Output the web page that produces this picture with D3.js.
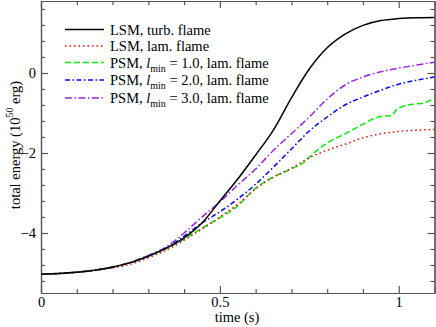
<!DOCTYPE html>
<html>
<head>
<meta charset="utf-8">
<script src="https://cdn.jsdelivr.net/npm/d3@7"></script>
<style>
  body { margin: 0; background: #fff; }
  svg { display: block; }
  text { font-family: "Liberation Serif", "DejaVu Serif", serif; fill: #000; }
</style>
</head>
<body>
<div id="chart"></div>
<script>
// time grid (s)
const t = [0, 0.05, 0.1, 0.15, 0.2, 0.25, 0.3, 0.35, 0.4, 0.45, 0.5, 0.55, 0.6, 0.65, 0.7, 0.75, 0.8, 0.85, 0.9, 0.95, 1.0, 1.05, 1.1];

// total energy (10^50 erg)
const lsmTurb = [-5.03, -5.01, -4.98, -4.93, -4.85, -4.74, -4.58, -4.38, -4.12, -3.75, -3.2, -2.65, -2.05, -1.42, -0.62, 0.1, 0.63, 0.97, 1.19, 1.31, 1.36, 1.38, 1.385];
const lsmLam = [-5.03, -5.01, -4.98, -4.94, -4.87, -4.78, -4.62, -4.43, -4.18, -3.9, -3.6, -3.28, -2.9, -2.6, -2.38, -2.12, -1.93, -1.78, -1.62, -1.52, -1.46, -1.43, -1.41];
const psm2 = [-5.03, -5.01, -4.98, -4.93, -4.86, -4.74, -4.57, -4.38, -4.08, -3.75, -3.47, -3.15, -2.78, -2.35, -1.9, -1.45, -1.1, -0.8, -0.6, -0.43, -0.28, -0.18, -0.1];
const psm3 = [-5.03, -5.01, -4.98, -4.93, -4.85, -4.73, -4.56, -4.35, -4.0, -3.6, -3.22, -2.8, -2.4, -1.93, -1.52, -1.1, -0.65, -0.3, -0.1, 0.03, 0.12, 0.2, 0.27];

// PSM lmin = 1.0 has its own time samples (kink near t = 0.98)
const tPsm1 = [0, 0.05, 0.1, 0.15, 0.2, 0.25, 0.3, 0.35, 0.4, 0.45, 0.5, 0.55, 0.6, 0.65, 0.7, 0.74, 0.76, 0.8, 0.85, 0.9, 0.93, 0.97, 0.98, 0.995, 1.04, 1.07, 1.1];
const psm1 = [-5.03, -5.01, -4.98, -4.93, -4.86, -4.74, -4.58, -4.4, -4.15, -3.88, -3.62, -3.32, -2.88, -2.6, -2.4, -2.2, -2.02, -1.75, -1.52, -1.28, -1.14, -1.07, -1.07, -0.9, -0.78, -0.75, -0.62];

const xTicks = [0, 0.5, 1];
const yTicks = [-4, -2, 0];

const width = 436, height = 327;
const svg = d3.select("#chart").append("svg").attr("width", width).attr("height", height);

const x = d3.scaleLinear().domain([0, 1.1]).range([41, 434.5]);
const y = d3.scaleLinear().domain([-5.5, 1.8]).range([293, 1]);

const axisColor = "#555";
const fontSize = 14.5;

// minor + major ticks, inward, on all four sides
function styleAxis(g){
    g.select(".domain").attr("stroke", axisColor).attr("stroke-width", 1.2);
    g.selectAll(".tick line").attr("stroke", axisColor).attr("stroke-width", 1.2);
}

const xMinor = d3.range(0, 1.11, 0.1).filter(v => !xTicks.some(m => Math.abs(m - v) < 1e-6));
const yMinor = d3.range(-5.2, 1.7, 0.4).filter(v => !yTicks.some(m => Math.abs(m - v) < 1e-6));

// bottom
svg.append("g").attr("transform", `translate(0,${y.range()[0]})`)
    .call(d3.axisBottom(x).tickValues(xMinor).tickSize(-4).tickSizeOuter(0).tickFormat(""))
    .call(styleAxis);
const xAx = svg.append("g").attr("transform", `translate(0,${y.range()[0]})`)
    .call(d3.axisBottom(x).tickValues(xTicks).tickSize(-7).tickSizeOuter(0).tickPadding(4).tickFormat(d3.format("")))
    .call(styleAxis);
xAx.selectAll("text").attr("font-size", fontSize).attr("fill", "#000");

// top
svg.append("g").attr("transform", `translate(0,${y.range()[1]})`)
    .call(d3.axisTop(x).tickValues(xMinor).tickSize(-4).tickSizeOuter(0).tickFormat(""))
    .call(styleAxis);
svg.append("g").attr("transform", `translate(0,${y.range()[1]})`)
    .call(d3.axisTop(x).tickValues(xTicks).tickSize(-7).tickSizeOuter(0).tickFormat(""))
    .call(styleAxis);

// left
svg.append("g").attr("transform", `translate(${x.range()[0]},0)`)
    .call(d3.axisLeft(y).tickValues(yMinor).tickSize(-4).tickSizeOuter(0).tickFormat(""))
    .call(styleAxis);
const yAx = svg.append("g").attr("transform", `translate(${x.range()[0]},0)`)
    .call(d3.axisLeft(y).tickValues(yTicks).tickSize(-7).tickSizeOuter(0).tickPadding(5).tickFormat(d3.format("")))
    .call(styleAxis);
yAx.selectAll("text").attr("font-size", fontSize).attr("fill", "#000");

// right
svg.append("g").attr("transform", `translate(${x.range()[1]},0)`)
    .call(d3.axisRight(y).tickValues(yMinor).tickSize(-4).tickSizeOuter(0).tickFormat(""))
    .call(styleAxis);
svg.append("g").attr("transform", `translate(${x.range()[1]},0)`)
    .call(d3.axisRight(y).tickValues(yTicks).tickSize(-7).tickSizeOuter(0).tickFormat(""))
    .call(styleAxis);

// curves
const series = [
    {ts: t, vs: lsmTurb, color: "#000000", dash: null},
    {ts: t, vs: lsmLam, color: "#ff0000", dash: "1.5,3"},
    {ts: tPsm1, vs: psm1, color: "#00ee00", dash: "6,3"},
    {ts: t, vs: psm2, color: "#0000ff", dash: "5,2.5,1.5,2.5"},
    {ts: t, vs: psm3, color: "#9b20e8", dash: "7,2.5,1.5,2.5"}
];

const line = d3.line().x(d => x(d[0])).y(d => y(d[1])).curve(d3.curveMonotoneX);

svg.append("defs").append("clipPath").attr("id", "plotClip")
    .append("rect").attr("x", 41).attr("y", 1).attr("width", 393.5).attr("height", 292);

const plot = svg.append("g").attr("clip-path", "url(#plotClip)");
// draw back to front so black ends on top of the bundle
for(let s of series.slice().reverse()){
    plot.append("path")
        .datum(s.ts.map((tt, i) => [tt, s.vs[i]]))
        .attr("d", line)
        .attr("fill", "none")
        .attr("stroke", s.color)
        .attr("stroke-width", 1.5)
        .attr("stroke-dasharray", s.dash);
}

// legend
const legendRows = [
    {y: 29.5, label: ["LSM, turb. flame"]},
    {y: 46, label: ["LSM, lam. flame"]},
    {y: 62.5, label: ["PSM, ", "1.0"]},
    {y: 80, label: ["PSM, ", "2.0"]},
    {y: 98, label: ["PSM, ", "3.0"]}
];
legendRows.forEach((r, i) => {
    const s = series[i];
    svg.append("line").attr("x1", 65).attr("x2", 104).attr("y1", r.y).attr("y2", r.y)
        .attr("stroke", s.color).attr("stroke-width", 1.5).attr("stroke-dasharray", s.dash);
    const txt = svg.append("text").attr("x", 110).attr("y", r.y + 5).attr("font-size", fontSize);
    if(r.label.length === 1){
        txt.text(r.label[0]);
    } else {
        txt.append("tspan").text(r.label[0]);
        txt.append("tspan").attr("font-style", "italic").text("l");
        txt.append("tspan").attr("font-size", 10).attr("dy", 4).text("min");
        txt.append("tspan").attr("dy", -4).text(" = " + r.label[1] + ", lam. flame");
    }
});

// axis titles
svg.append("text").attr("x", 237).attr("y", 322).attr("text-anchor", "middle")
    .attr("font-size", fontSize).text("time (s)");

const yt = svg.append("text").attr("transform", "translate(20,145) rotate(-90)")
    .attr("text-anchor", "middle").attr("font-size", fontSize);
yt.append("tspan").text("total energy (10");
yt.append("tspan").attr("font-size", 10).attr("dy", -7).text("50");
yt.append("tspan").attr("dy", 7).text(" erg)");
</script>
</body>
</html>
